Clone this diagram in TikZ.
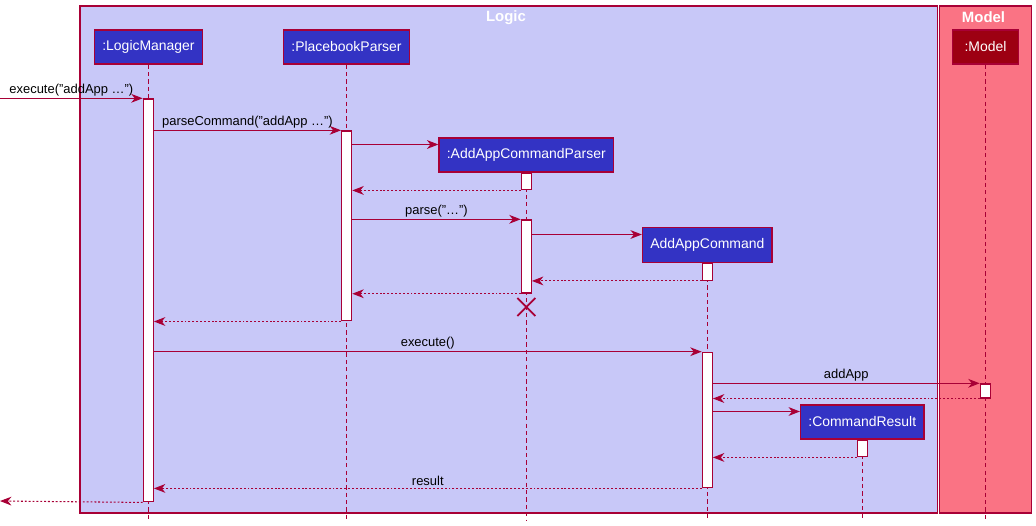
\documentclass[tikz,border=0pt]{standalone}
\usepackage{fontspec}
\setmainfont{Liberation Sans}
\usetikzlibrary{calc}
\usetikzlibrary{arrows.meta}
\usepackage{xcolor}

\definecolor{umlred}{HTML}{A80036}
\definecolor{logicbg}{HTML}{C8C8F8}
\definecolor{modelbg}{HTML}{FA7384}
\definecolor{partblue}{HTML}{3333C4}
\definecolor{partred}{HTML}{9D0012}

\tikzset{
  part/.style={draw=umlred, fill=partblue, text=white, line width=0.8pt,
    inner xsep=0.155cm, inner ysep=0pt, minimum height=0.68cm,
    font=\fontsize{7.94}{9}\selectfont},
  actbar/.style={draw=umlred, fill=white, line width=0.7pt, minimum width=0.2cm,
    inner sep=0pt, anchor=north},
  life/.style={umlred, line width=0.6pt, dash pattern=on 2.4pt off 1.8pt},
  msg/.style={umlred, line width=0.6pt, ->, >={Stealth[length=6.5pt,width=5pt,inset=2pt]}},
  ret/.style={msg, dash pattern=on 1.1pt off 1.1pt},
  lbl/.style={midway, above=0.6pt, text=black, inner sep=0.5pt,
    font=\fontsize{7.37}{9}\selectfont},
  frametitle/.style={text=white, font=\fontsize{8.5}{10}\selectfont\bfseries},
}

\begin{document}
\begin{tikzpicture}[x=0.02cm, y=-0.02cm]
\useasboundingbox (0,0) rectangle (1036,525);

% boxes of the two packages
\draw[umlred, fill=logicbg, line width=0.7pt] (80,6) rectangle (937.5,513);
\draw[umlred, fill=modelbg, line width=0.7pt] (939.5,6) rectangle (1031.5,513);
\node[frametitle] (logict) at (506,17.5) {Logic};
\node[frametitle] (modelt) at (983.5,17.5) {Model};

% participants
\node[part] (lm) at (148.5,47) {:LogicManager};
\node[part] (pp) at (346.5,47) {:PlacebookParser};
\node[part, fill=partred, minimum width=1.31cm] (mdl) at (985.5,47) {:Model};
\node[part] (acp) at (526.3,155) {:AddAppCommandParser};
\node[part, minimum height=0.7cm] (ac) at (707.3,245) {AddAppCommand};
\node[part] (cr) at (862.3,422) {:CommandResult};

% lifelines
\foreach \p in {lm,pp,mdl,acp,ac,cr}
  \draw[life] (\p.south) -- (\p.south |- 0,520);

% redraw boxes over lifelines
\node[part] at (lm) {:LogicManager};
\node[part] at (pp) {:PlacebookParser};
\node[part, fill=partred, minimum width=1.31cm] at (mdl) {:Model};
\node[part] at (acp) {:AddAppCommandParser};
\node[part, minimum height=0.7cm] at (ac) {AddAppCommand};
\node[part] at (cr) {:CommandResult};

% activations
\node[actbar, minimum height=8.06cm] (lm1) at (148.3,98.3) {};
\node[actbar, minimum height=3.8cm] (pp1) at (346.7,130.3) {};
\node[actbar, minimum height=0.33cm] (acp1) at (acp.south) {};
\node[actbar, minimum height=1.464cm] (acp2) at (526.3,219.3) {};
\node[actbar, minimum height=0.33cm] (ac1) at (ac.south) {};
\node[actbar, minimum height=2.71cm] (ac2) at (707.3,351.7) {};
\node[actbar, minimum height=0.28cm] (mdl1) at (985.3,383.3) {};
\node[actbar, minimum height=0.33cm] (cr1) at (cr.south) {};

\coordinate (caller) at (0,98.3);
\coordinate (back) at (0,501);
\coordinate (acpin) at ($(acp.west)+(0,-10.5)$);
\coordinate (acin) at ($(ac.west)+(0,-10.5)$);
\coordinate (crin) at ($(cr.west)+(0,-10.5)$);

% messages
\draw[msg] (caller) -- (lm1.north west) node[lbl] {execute("addApp …")};
\draw[msg] (lm1.east |- pp1.north) -- (pp1.north west) node[lbl] {parseCommand("addApp …")};
\draw[msg] (pp1.east |- acpin) -- (acpin);
\draw[ret] (acp1.south west) -- (pp1.east |- acp1.south);
\draw[msg] (pp1.east |- acp2.north) -- (acp2.north west) node[lbl] {parse("…")};
\draw[msg] (acp2.east |- acin) -- (acin);
\draw[ret] (ac1.south west) -- (acp2.east |- ac1.south);
\draw[ret] (acp2.south west) -- (pp1.east |- acp2.south);
\draw[ret] (pp1.south west) -- (lm1.east |- pp1.south);
\draw[msg] (lm1.east |- ac2.north) -- (ac2.north west) node[lbl] {execute()};
\draw[msg] (ac2.east |- mdl1.north) -- (mdl1.north west) node[lbl] {addApp};
\draw[ret] (mdl1.south west) -- (ac2.east |- mdl1.south);
\draw[msg] (ac2.east |- crin) -- (crin);
\draw[ret] (cr1.south west) -- (ac2.east |- cr1.south);
\draw[ret] (ac2.south west) -- (lm1.east |- ac2.south) node[lbl] {result};
\draw[ret] (lm1.south west) -- (back);

% destruction of the parser
\draw[umlred, line width=1pt] ($(acp2.south)+(-9,4.3)$) -- ++(18,18)
  ($(acp2.south)+(9,4.3)$) -- ++(-18,18);
\end{tikzpicture}
\end{document}
